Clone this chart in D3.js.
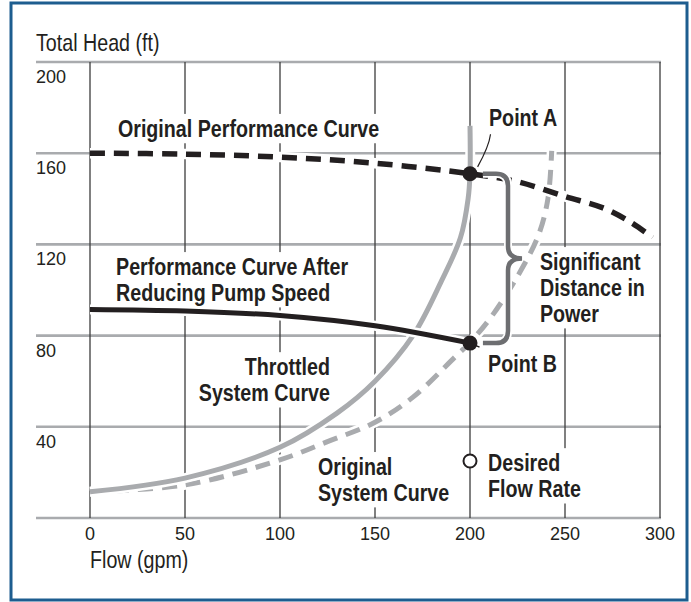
<!DOCTYPE html>
<html>
<head>
<meta charset="utf-8">
<script src="https://cdn.jsdelivr.net/npm/d3@7"></script>
<style>
  body { margin: 0; background: #fff; }
  svg { display: block; }
  .tick-label { font-family: "Liberation Sans", Arial, sans-serif; font-size: 18px; fill: #231f20; }
  .axis-title { font-family: "Liberation Sans", Arial, sans-serif; font-size: 24px; fill: #231f20; }
  .note { font-family: "Liberation Sans", Arial, sans-serif; font-size: 24px; font-weight: bold; fill: #231f20; }
</style>
</head>
<body>
<div id="chart"></div>
<script>
// ticks
const flowTicks = [0, 50, 100, 150, 200, 250, 300];
const headTicks = [0, 40, 80, 120, 160, 200];
const headLabels = ["", "40", "80", "120", "160", "200"];

// original performance curve (dashed black)
const origPerfFlow = [0, 50, 100, 150, 200, 225, 250, 270, 285, 296];
const origPerfHead = [160, 159.6, 158.3, 155.6, 151, 147.5, 141, 136, 129.5, 123];

// performance curve after reducing pump speed (solid black)
const reducedFlow = [0, 50, 100, 150, 200];
const reducedHead = [91.5, 90.8, 88.8, 84.3, 76.7];

// throttled system curve (solid gray)
const throttledFlow = [0, 50, 100, 130, 150, 170, 185, 195, 199, 200, 200];
const throttledHead = [11.5, 17.5, 31, 46, 60, 80, 104, 123, 140, 151, 172];

// original system curve (dashed gray)
const origSysFlow = [0, 50, 100, 125, 150, 170, 192, 200, 211, 225, 236, 241, 243];
const origSysHead = [11.5, 14.5, 25.5, 33.5, 42, 53, 70.5, 77, 88, 106, 124, 140, 161];

// marked points
const pointA = [200, 151];
const pointB = [200, 76.7];
const desired = [200, 25];

const W = 691, H = 602;
const narrow = 0.82;   // condensed look from a regular face

const svg = d3.select("#chart").append("svg")
    .attr("width", W)
    .attr("height", H);

const x = d3.scaleLinear().domain([0, 300]).range([90, 660]);
const y = d3.scaleLinear().domain([0, 200]).range([518, 62]);

// outer blue frame
svg.append("rect")
    .attr("x", 11).attr("y", 3)
    .attr("width", 676).attr("height", 597)
    .attr("fill", "#fff")
    .attr("stroke", "#1d5d8f")
    .attr("stroke-width", 3);

// grid
svg.append("g").selectAll("line")
    .data(headTicks)
    .join("line")
    .attr("x1", 36).attr("x2", x(300) + 1)
    .attr("y1", d => y(d)).attr("y2", d => y(d))
    .attr("stroke", "#a9abae")
    .attr("stroke-width", 2.6);

svg.append("g").selectAll("line")
    .data(flowTicks)
    .join("line")
    .attr("x1", d => x(d)).attr("x2", d => x(d))
    .attr("y1", y(200)).attr("y2", y(0))
    .attr("stroke", "#3c3c3c")
    .attr("stroke-width", 1.3);

// tick labels
svg.append("g").selectAll("text")
    .data(headTicks)
    .join("text")
    .attr("class", "tick-label")
    .attr("x", 36)
    .attr("y", d => y(d) + 21)
    .text((d, i) => headLabels[i]);

svg.append("g").selectAll("text")
    .data(flowTicks)
    .join("text")
    .attr("class", "tick-label")
    .attr("text-anchor", "middle")
    .attr("x", d => x(d))
    .attr("y", y(0) + 22)
    .text(d => d);

function squeezed(px, py, cls, str) {
    svg.append("text").attr("class", cls)
        .attr("transform", "translate(" + px + "," + py + ") scale(" + narrow + ",1)")
        .text(str);
}
squeezed(36, 51, "axis-title", "Total Head (ft)");
squeezed(90, 568, "axis-title", "Flow (gpm)");

// annotation text blocks (white box behind cuts the grid)
const bgLayer = svg.append("g");
const curveLayer = svg.append("g");
const textLayer = svg.append("g");

function note(lines, q, h, anchor) {
    const tf = "translate(" + x(q) + "," + y(h) + ") scale(" + narrow + ",1)";
    const t = textLayer.append("text")
        .attr("class", "note")
        .attr("transform", tf)
        .attr("text-anchor", anchor || "start");
    lines.forEach((s, i) => {
        t.append("tspan")
            .attr("x", 0)
            .attr("y", i * 26)
            .text(s);
    });
    const b = t.node().getBBox();
    bgLayer.append("rect")
        .attr("transform", tf)
        .attr("x", b.x - 3).attr("y", b.y - 1)
        .attr("width", b.width + 6).attr("height", b.height + 2)
        .attr("fill", "#fff");
}

note(["Original Performance Curve"], 14.7, 167.2);
note(["Point A"], 210, 171.9);
note(["Performance Curve After", "Reducing Pump Speed"], 13.7, 106.6);
note(["Significant", "Distance in", "Power"], 236.8, 108.8);
note(["Point B"], 209.5, 64);
note(["Throttled", "System Curve"], 126.3, 62.7, "end");
note(["Original", "System Curve"], 120, 18.9);
note(["Desired", "Flow Rate"], 209.5, 20.6);

// curves
function curve(flow, head, color, width, dash) {
    const pts = flow.map((f, i) => [x(f), y(head[i])]);
    const line = d3.line().curve(d3.curveCatmullRom.alpha(0.5));
    curveLayer.append("path")
        .attr("d", line(pts))
        .attr("fill", "none")
        .attr("stroke", "#fff")
        .attr("stroke-width", width + 5);
    curveLayer.append("path")
        .attr("d", line(pts))
        .attr("fill", "none")
        .attr("stroke", color)
        .attr("stroke-width", width)
        .attr("stroke-dasharray", dash || null);
}

curve(origSysFlow, origSysHead, "#a9abae", 5, "15,9");
curve(throttledFlow, throttledHead, "#a9abae", 5);
curve(reducedFlow, reducedHead, "#231f20", 5);
curve(origPerfFlow, origPerfHead, "#231f20", 5.5, "15,9");

// curly brace between point A and point B
const bx0 = x(206.8), bx1 = x(220), bxc = x(227.4);
const byA = y(pointA[1]), byB = y(pointB[1]), byc = (byA + byB) / 2;
const p = d3.path();
p.moveTo(bx0, byA);
p.lineTo(bx1 - 12, byA);
p.quadraticCurveTo(bx1, byA, bx1, byA + 12);
p.lineTo(bx1, byc - 12);
p.quadraticCurveTo(bx1, byc, bxc, byc);
p.quadraticCurveTo(bx1, byc, bx1, byc + 12);
p.lineTo(bx1, byB - 12);
p.quadraticCurveTo(bx1, byB, bx1 - 12, byB);
p.lineTo(bx0, byB);
curveLayer.append("path")
    .attr("d", p.toString())
    .attr("fill", "none")
    .attr("stroke", "#fff")
    .attr("stroke-width", 8);
curveLayer.append("path")
    .attr("d", p.toString())
    .attr("fill", "none")
    .attr("stroke", "#6d6e71")
    .attr("stroke-width", 4.5);

// leader lines
curveLayer.append("path")
    .attr("d", "M" + x(210.8) + "," + y(168.3) + " Q" + x(210) + "," + y(163) + " " + x(204) + "," + y(154))
    .attr("fill", "none")
    .attr("stroke", "#231f20")
    .attr("stroke-width", 1.2);
curveLayer.append("line")
    .attr("x1", x(pointB[0])).attr("y1", y(pointB[1]))
    .attr("x2", x(205)).attr("y2", y(pointB[1]) + 4)
    .attr("stroke", "#231f20")
    .attr("stroke-width", 1.5);

// points
curveLayer.selectAll("circle.pt")
    .data([pointA, pointB])
    .join("circle")
    .attr("class", "pt")
    .attr("cx", d => x(d[0]))
    .attr("cy", d => y(d[1]))
    .attr("r", 7.5)
    .attr("fill", "#231f20");

curveLayer.append("circle")
    .attr("cx", x(desired[0]))
    .attr("cy", y(desired[1]))
    .attr("r", 6.5)
    .attr("fill", "#fff")
    .attr("stroke", "#231f20")
    .attr("stroke-width", 2);
</script>
</body>
</html>
